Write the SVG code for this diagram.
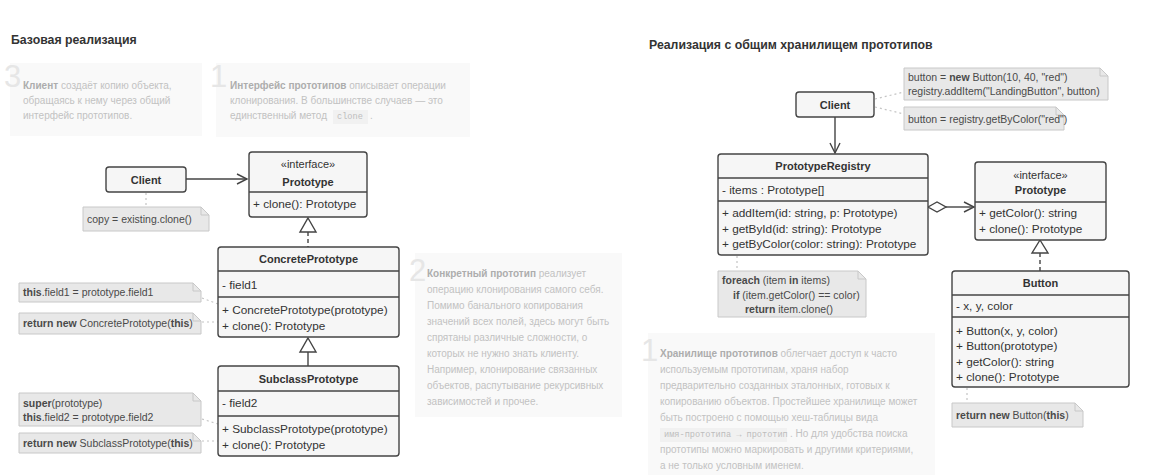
<svg xmlns="http://www.w3.org/2000/svg" width="1170" height="476" viewBox="0 0 1170 476">
<style>
text{font-family:"Liberation Sans",Arial,sans-serif}
.title{font-size:12.3px;font-weight:bold;fill:#333}
.node{fill:#f6f6f6;stroke:#444;stroke-width:1.4}
.div{stroke:#444;stroke-width:1.4;fill:none}
.name{font-size:11px;font-weight:bold;fill:#333;text-anchor:middle}
.ster{font-size:11px;fill:#333;text-anchor:middle}
.mem{font-size:11.8px;fill:#333}
.note{fill:#e8e8e8;stroke:#c8c8c8;stroke-width:1}
.fold{fill:none;stroke:#c8c8c8;stroke-width:1}
.nt{font-size:10.5px;fill:#4a4a4a}
.b{font-weight:bold}
.ann{fill:#f9f9f9}
.at{font-size:10px;fill:#c2c2c2}
.ab{font-weight:bold;fill:#adadad}
.num{font-size:31px;fill:#e6e6e6}
.code{font-family:"Liberation Mono","Courier New",monospace;font-size:8.6px;fill:#bdbdbd}
.cbg{fill:#f1f1f1}
.line{stroke:#444;stroke-width:1.4;fill:none}
.dash{stroke:#444;stroke-width:1.4;fill:none;stroke-dasharray:4,3}
.dot{stroke:#c4c4c4;stroke-width:1.2;fill:none;stroke-dasharray:2,3}
.tri{fill:#fff;stroke:#444;stroke-width:1.4}
</style>

<text class="title" x="11" y="44">Базовая реализация</text>
<text class="title" x="649" y="49">Реализация с общим хранилищем прототипов</text>

<!-- annotations -->
<g id="ann-left-3">
<rect class="ann" x="10" y="63" width="192" height="73"/>
<text class="num" x="4" y="87">3</text>
<text class="at" x="23" y="89"><tspan class="ab">Клиент</tspan> создаёт копию объекта,</text>
<text class="at" x="23" y="104">обращаясь к нему через общий</text>
<text class="at" x="23" y="119">интерфейс прототипов.</text>
</g>
<g id="ann-left-1">
<rect class="ann" x="216" y="63" width="254" height="74"/>
<text class="num" x="210" y="87">1</text>
<text class="at" x="230" y="89"><tspan class="ab">Интерфейс прототипов</tspan> описывает операции</text>
<text class="at" x="230" y="104">клонирования. В большинстве случаев — это</text>
<text class="at" x="230" y="119">единственный метод</text>
<rect class="cbg" x="333" y="110" width="35" height="14"/>
<text class="code" x="337" y="119">clone</text>
<text class="at" x="370" y="119">.</text>
</g>
<g id="ann-left-2">
<rect class="ann" x="415" y="253" width="207" height="164"/>
<text class="num" x="409" y="281">2</text>
<text class="at" x="427" y="277"><tspan class="ab">Конкретный прототип</tspan> реализует</text>
<text class="at" x="427" y="293">операцию клонирования самого себя.</text>
<text class="at" x="427" y="309">Помимо банального копирования</text>
<text class="at" x="427" y="325">значений всех полей, здесь могут быть</text>
<text class="at" x="427" y="341">спрятаны различные сложности, о</text>
<text class="at" x="427" y="357">которых не нужно знать клиенту.</text>
<text class="at" x="427" y="373">Например, клонирование связанных</text>
<text class="at" x="427" y="389">объектов, распутывание рекурсивных</text>
<text class="at" x="427" y="405">зависимостей и прочее.</text>
</g>
<g id="ann-right-1">
<rect class="ann" x="648" y="333" width="287" height="142"/>
<text class="num" x="641" y="361">1</text>
<text class="at" x="660" y="357"><tspan class="ab">Хранилище прототипов</tspan> облегчает доступ к часто</text>
<text class="at" x="660" y="373">используемым прототипам, храня набор</text>
<text class="at" x="660" y="389">предварительно созданных эталонных, готовых к</text>
<text class="at" x="660" y="405">копированию объектов. Простейшее хранилище может</text>
<text class="at" x="660" y="421">быть построено с помощью хеш-таблицы вида</text>
<rect class="cbg" x="660" y="428" width="127" height="14"/>
<text class="code" x="664" y="437">имя-прототипа → прототип</text>
<text class="at" x="790" y="437">. Но для удобства поиска</text>
<text class="at" x="660" y="453">прототипы можно маркировать и другими критериями,</text>
<text class="at" x="660" y="469">а не только условным именем.</text>
</g>

<!-- connectors -->
<g id="connectors">
<line class="line" x1="186" y1="179" x2="247" y2="179"/>
<path class="line" d="M237,174 L247,179 L237,184"/>
<line class="dot" x1="146" y1="193" x2="146" y2="207"/>
<line class="dash" x1="308" y1="232" x2="308" y2="247"/>
<path class="tri" d="M308,218 L316,232 L300,232 Z"/>
<line class="line" x1="308" y1="352" x2="308" y2="366"/>
<path class="tri" d="M308,338 L316,352 L300,352 Z"/>
<line class="dot" x1="202" y1="298" x2="218" y2="304"/>
<line class="dot" x1="202" y1="322" x2="218" y2="322"/>
<line class="dot" x1="202" y1="419" x2="218" y2="424"/>
<line class="dot" x1="202" y1="441" x2="218" y2="441"/>

<line class="line" x1="835" y1="117" x2="835" y2="153"/>
<path class="line" d="M830,143 L835,153 L840,143"/>
<line class="dot" x1="875" y1="99" x2="904" y2="92"/>
<line class="dot" x1="875" y1="107" x2="904" y2="114"/>
<line class="line" x1="946" y1="207" x2="974" y2="207"/>
<path class="line" d="M964,202 L974,207 L964,212"/>
<path class="tri" d="M928,207 L937,202 L946,207 L937,212 Z"/>
<line class="dash" x1="1040" y1="253" x2="1040" y2="271"/>
<path class="tri" d="M1040,240 L1048,253 L1032,253 Z"/>
<line class="dot" x1="737" y1="256" x2="737" y2="271"/>
<line class="dot" x1="967" y1="388" x2="967" y2="403"/>
</g>

<!-- left nodes -->
<g id="client-left">
<rect class="node" x="106" y="167" width="80" height="25" rx="3"/>
<text class="name" x="146" y="183.5">Client</text>
</g>
<g id="note-copy">
<path class="note" d="M83,207 H201 L209,215 V231 H83 Z"/>
<path class="fold" d="M201,207 V215 H209"/>
<text class="nt" x="87" y="223">copy = existing.clone()</text>
</g>
<g id="prototype-left">
<rect class="node" x="249" y="152" width="118" height="65" rx="3"/>
<line class="div" x1="249" y1="192" x2="367" y2="192"/>
<text class="ster" x="308" y="168">«interface»</text>
<text class="name" x="308" y="186">Prototype</text>
<text class="mem" x="253" y="208">+ clone(): Prototype</text>
</g>
<g id="concrete-prototype">
<rect class="node" x="218" y="247" width="181" height="90" rx="3"/>
<line class="div" x1="218" y1="271" x2="399" y2="271"/>
<line class="div" x1="218" y1="297" x2="399" y2="297"/>
<text class="name" x="308.5" y="263">ConcretePrototype</text>
<text class="mem" x="222" y="289">- field1</text>
<text class="mem" x="222" y="314">+ ConcretePrototype(prototype)</text>
<text class="mem" x="222" y="330">+ clone(): Prototype</text>
</g>
<g id="note-field1">
<path class="note" d="M19,283 H193 L201,291 V302 H19 Z"/>
<path class="fold" d="M193,283 V291 H201"/>
<text class="nt" x="23" y="296"><tspan class="b">this</tspan>.field1 = prototype.field1</text>
</g>
<g id="note-return-concrete">
<path class="note" d="M19,313 H193 L201,321 V334 H19 Z"/>
<path class="fold" d="M193,313 V321 H201"/>
<text class="nt" x="23" y="327"><tspan class="b">return new</tspan> ConcretePrototype(<tspan class="b">this</tspan>)</text>
</g>
<g id="subclass-prototype">
<rect class="node" x="218" y="366" width="181" height="90" rx="3"/>
<line class="div" x1="218" y1="391" x2="399" y2="391"/>
<line class="div" x1="218" y1="416" x2="399" y2="416"/>
<text class="name" x="308.5" y="383">SubclassPrototype</text>
<text class="mem" x="222" y="407">- field2</text>
<text class="mem" x="222" y="433">+ SubclassPrototype(prototype)</text>
<text class="mem" x="222" y="449">+ clone(): Prototype</text>
</g>
<g id="note-super">
<path class="note" d="M19,393 H193 L201,401 V426 H19 Z"/>
<path class="fold" d="M193,393 V401 H201"/>
<text class="nt" x="23" y="407"><tspan class="b">super</tspan>(prototype)</text>
<text class="nt" x="23" y="421"><tspan class="b">this</tspan>.field2 = prototype.field2</text>
</g>
<g id="note-return-subclass">
<path class="note" d="M19,433 H193 L201,441 V453 H19 Z"/>
<path class="fold" d="M193,433 V441 H201"/>
<text class="nt" x="23" y="447"><tspan class="b">return new</tspan> SubclassPrototype(<tspan class="b">this</tspan>)</text>
</g>

<!-- right nodes -->
<g id="client-right">
<rect class="node" x="796" y="92" width="78" height="25" rx="3"/>
<text class="name" x="835" y="108.5">Client</text>
</g>
<g id="note-add">
<path class="note" d="M904,68 H1100 L1108,76 V100 H904 Z"/>
<path class="fold" d="M1100,68 V76 H1108"/>
<text class="nt" x="908" y="81">button = <tspan class="b">new</tspan> Button(10, 40, "red")</text>
<text class="nt" x="908" y="95">registry.addItem("LandingButton", button)</text>
</g>
<g id="note-get">
<path class="note" d="M904,107 H1056 L1064,115 V130 H904 Z"/>
<path class="fold" d="M1056,107 V115 H1064"/>
<text class="nt" x="908" y="123">button = registry.getByColor("red")</text>
</g>
<g id="prototype-registry">
<rect class="node" x="718" y="154" width="210" height="101" rx="3"/>
<line class="div" x1="718" y1="178" x2="928" y2="178"/>
<line class="div" x1="718" y1="201" x2="928" y2="201"/>
<text class="name" x="823" y="170">PrototypeRegistry</text>
<text class="mem" x="722" y="194">- items : Prototype[]</text>
<text class="mem" x="722" y="217">+ addItem(id: string, p: Prototype)</text>
<text class="mem" x="722" y="233">+ getById(id: string): Prototype</text>
<text class="mem" x="722" y="248">+ getByColor(color: string): Prototype</text>
</g>
<g id="note-foreach">
<path class="note" d="M718,271 H858 L866,279 V317 H718 Z"/>
<path class="fold" d="M858,271 V279 H866"/>
<text class="nt" x="722" y="284"><tspan class="b">foreach</tspan> (item <tspan class="b">in</tspan> items)</text>
<text class="nt" x="733" y="299"><tspan class="b">if</tspan> (item.getColor() == color)</text>
<text class="nt" x="745" y="313"><tspan class="b">return</tspan> item.clone()</text>
</g>
<g id="prototype-right">
<rect class="node" x="975" y="162" width="131" height="78" rx="3"/>
<line class="div" x1="975" y1="202" x2="1106" y2="202"/>
<text class="ster" x="1040.5" y="179">«interface»</text>
<text class="name" x="1040.5" y="194">Prototype</text>
<text class="mem" x="979" y="217">+ getColor(): string</text>
<text class="mem" x="979" y="233">+ clone(): Prototype</text>
</g>
<g id="button">
<rect class="node" x="952" y="271" width="177" height="116" rx="3"/>
<line class="div" x1="952" y1="295" x2="1129" y2="295"/>
<line class="div" x1="952" y1="317" x2="1129" y2="317"/>
<text class="name" x="1040.5" y="287">Button</text>
<text class="mem" x="956" y="310">- x, y, color</text>
<text class="mem" x="956" y="335">+ Button(x, y, color)</text>
<text class="mem" x="956" y="350">+ Button(prototype)</text>
<text class="mem" x="956" y="366">+ getColor(): string</text>
<text class="mem" x="956" y="381">+ clone(): Prototype</text>
</g>
<g id="note-return-button">
<path class="note" d="M952,403 H1075 L1083,411 V427 H952 Z"/>
<path class="fold" d="M1075,403 V411 H1083"/>
<text class="nt" x="956" y="419"><tspan class="b">return new</tspan> Button(<tspan class="b">this</tspan>)</text>
</g>
</svg>
